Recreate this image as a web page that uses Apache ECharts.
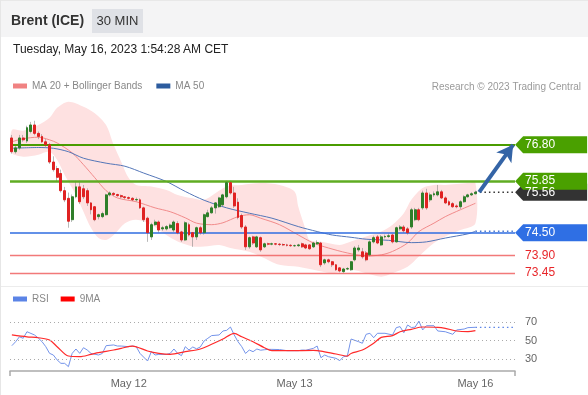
<!DOCTYPE html>
<html><head><meta charset="utf-8">
<script src="https://cdn.jsdelivr.net/npm/echarts@6/dist/echarts.min.js"></script>
<style>
html,body{margin:0;padding:0;background:#fff;}
#wrap{position:relative;width:588px;height:395px;overflow:hidden;background:#fff;font-family:'Liberation Sans',Arial,sans-serif;}
#chart{position:absolute;left:0;top:0;width:588px;height:395px;}
#hdr{position:absolute;left:0;top:0;width:588px;height:37px;background:#f4f4f5;border-top:1px solid #e8e8e8;box-sizing:border-box;}
#ttl{position:absolute;left:11px;top:11px;line-height:16px;font-weight:bold;font-size:14px;color:#333;}
#tf{position:absolute;left:92px;top:8px;width:51px;height:24px;background:#dfe1e6;font-size:13px;color:#333;line-height:24px;text-align:center;}
#dt{position:absolute;left:13px;top:41px;line-height:16px;font-size:12px;color:#222;}
#sep{position:absolute;left:0;top:286px;width:588px;height:1px;background:#ececec;}
#lb{position:absolute;left:0;top:0;width:1px;height:395px;background:#e6e6e6;}
</style></head>
<body><div id="wrap">
<div id="chart"></div>
<div id="hdr"><div id="ttl">Brent (ICE)</div><div id="tf">30 MIN</div></div>
<div id="dt">Tuesday, May 16, 2023 1:54:28 AM CET</div>
<div id="sep"></div><div id="lb"></div>
</div>
<script>
// ---- data ----
const slotCount = 134;               // candle slots incl. empty future slots
const tickIdx = [31, 75, 123];
const tickText = ['May 12', 'May 13', 'May 16'];
// [open, close, low, high]
const candles = [
[76.98,76.62,76.57,77.06],[76.62,76.72,76.57,76.80],[76.72,76.98,76.67,77.06],[76.98,76.93,76.88,77.06],
[76.90,77.25,76.85,77.30],[77.15,77.32,77.10,77.40],[77.32,77.10,77.05,77.43],[77.10,77.02,76.95,77.15],
[77.02,76.88,76.85,77.08],[76.88,76.80,76.75,76.95],[76.80,76.35,76.30,76.85],[76.35,76.15,76.10,76.50],
[76.18,75.95,75.85,76.25],[76.05,75.60,75.55,76.15],[75.60,75.36,75.30,75.70],[75.40,74.80,74.63,75.55],
[74.84,75.44,74.78,75.50],[75.44,75.70,75.40,75.86],[75.70,75.31,75.25,75.86],[75.65,75.44,75.38,75.75],
[75.60,75.28,75.20,75.66],[75.28,75.10,74.98,75.30],[75.18,74.84,74.80,75.20],[74.92,74.97,74.85,75.00],
[74.92,75.00,74.88,75.05],[74.97,75.49,74.95,75.52],[75.49,75.54,75.45,75.58],[75.53,75.50,75.46,75.56],
[75.50,75.47,75.44,75.52],[75.47,75.44,75.40,75.50],[75.44,75.42,75.38,75.46],[75.42,75.40,75.37,75.45],
[75.40,75.36,75.33,75.43],[75.36,75.37,75.32,75.42],[75.36,75.15,75.12,75.40],[75.15,74.84,74.78,75.18],
[74.88,74.50,74.26,74.92],[74.39,74.71,74.31,74.76],[74.71,74.78,74.68,74.84],[74.78,74.57,74.50,74.82],
[74.60,74.63,74.55,74.68],[74.60,74.66,74.56,74.70],[74.63,74.70,74.60,74.74],[74.57,74.78,74.52,74.82],
[74.74,74.50,74.46,74.80],[74.52,74.31,74.26,74.55],[74.31,74.76,74.28,74.80],[74.71,74.44,74.40,74.76],
[74.50,74.39,74.13,74.52],[74.39,74.63,74.31,74.66],[74.63,74.50,74.45,74.68],[74.50,74.97,74.45,75.00],
[74.92,75.02,74.90,75.10],[75.02,75.15,75.00,75.20],[75.15,75.28,75.00,75.30],[75.18,75.41,75.15,75.44],
[75.23,75.49,75.20,75.52],[75.44,75.81,75.40,75.86],[75.81,75.54,75.50,75.86],[75.54,75.20,75.15,75.70],
[75.30,74.90,74.85,75.40],[74.95,74.65,74.60,75.00],[74.65,74.13,74.05,74.70],[74.13,74.37,74.08,74.40],
[74.39,74.23,74.18,74.42],[74.13,74.39,74.10,74.42],[74.37,74.05,74.00,74.40],[74.13,74.21,74.10,74.24],
[74.21,74.20,74.17,74.24],[74.20,74.21,74.17,74.24],[74.21,74.20,74.17,74.23],[74.20,74.19,74.15,74.23],
[74.19,74.18,74.15,74.22],[74.18,74.17,74.14,74.21],[74.17,74.16,74.13,74.20],[74.16,74.16,74.13,74.19],
[74.16,74.18,74.13,74.21],[74.21,74.13,74.10,74.24],[74.18,74.10,74.07,74.21],[74.18,74.08,74.05,74.20],
[74.13,74.23,74.10,74.26],[74.21,74.24,74.18,74.30],[74.23,73.66,73.60,74.26],[73.71,73.79,73.66,73.82],
[73.79,73.74,73.70,73.82],[73.74,73.66,73.60,73.76],[73.66,73.53,73.50,73.68],[73.58,73.50,73.46,73.60],
[73.48,73.55,73.45,73.58],[73.55,73.56,73.52,73.60],[73.53,73.74,73.50,73.76],[73.79,74.10,73.75,74.15],
[74.05,74.10,74.00,74.18],[74.00,73.87,73.82,74.10],[73.97,73.79,73.75,74.02],[73.92,74.26,73.88,74.30],
[74.26,74.37,74.22,74.42],[74.39,74.23,74.20,74.44],[74.18,74.39,74.15,74.44],[74.39,74.40,74.35,74.45],
[74.40,74.42,74.36,74.48],[74.44,74.26,74.22,74.47],[74.26,74.63,74.24,74.66],[74.60,74.65,74.55,74.70],
[74.65,74.55,74.50,74.70],[74.60,74.50,74.45,74.65],[74.65,75.10,74.60,75.15],[74.84,75.10,74.80,75.15],
[75.10,74.84,74.80,75.15],[75.15,75.54,75.10,75.60],[75.54,75.15,75.10,75.65],[75.36,75.49,75.30,75.55],
[75.49,75.52,75.44,75.58],[75.49,75.57,75.45,75.75],[75.57,75.41,75.38,75.62],[75.41,75.28,75.25,75.45],
[75.31,75.23,75.20,75.35],[75.26,75.18,75.15,75.30],[75.20,75.18,75.14,75.24],[75.18,75.31,75.12,75.35],
[75.31,75.44,75.28,75.48],[75.44,75.49,75.42,75.52],[75.49,75.52,75.46,75.56],[75.52,75.56,75.50,75.60]
];
// [slot, value]
const ma20 = [[0,76.88],[3,76.96],[7,77.00],[10,76.93],[12,76.85],[16,76.59],[19,76.28],[22,75.94],[25,75.60],
[28,75.41],[33,75.31],[38,75.15],[42,75.05],[46,74.89],[49,74.75],[53,74.71],[56,74.76],[60,74.92],[63,74.97],
[66,74.88],[71,74.71],[76,74.44],[80,74.23],[84,74.10],[89,73.97],[94,73.89],[98,73.92],[101,74.01],[105,74.23],
[108,74.53],[112,74.75],[115,74.92],[119,75.10],[123,75.27]];
const ma50 = [[0,76.71],[7,76.73],[11,76.71],[15,76.62],[19,76.45],[25,76.32],[30,76.24],[35,76.06],[41,75.84],
[46,75.58],[51,75.35],[57,75.15],[63,75.01],[69,74.88],[76,74.66],[81,74.53],[85,74.44],[90,74.38],[94,74.33],
[100,74.30],[106,74.24],[110,74.26],[115,74.36],[121,74.47],[123,74.54]];
const bbUpper = [[0,77.19],[3,77.17],[7,77.32],[10,77.51],[12,77.77],[15,77.93],[19,77.80],[22,77.63],[25,77.32],
[27,76.80],[29,76.36],[31,75.93],[33,75.75],[37,75.71],[41,75.62],[44,75.49],[48,75.40],[51,75.36],[57,75.71],
[61,75.75],[66,75.80],[71,75.75],[75,75.58],[76,75.18],[78,74.57],[79,74.31],[82,74.26],[87,74.18],[90,74.27],
[94,74.40],[98,74.53],[101,74.71],[104,75.01],[106,75.36],[109,75.67],[112,75.75],[115,75.75],[121,75.80],[123,75.80]];
const bbLower = [[0,76.59],[3,76.49],[7,76.54],[10,76.62],[12,76.41],[14,76.01],[17,75.49],[19,75.05],[21,74.62],
[23,74.36],[25,74.31],[27,74.44],[30,74.75],[33,74.84],[37,74.71],[41,74.44],[44,74.27],[48,74.14],[51,74.14],
[55,74.18],[58,74.10],[63,74.00],[66,73.88],[71,73.66],[76,73.61],[80,73.53],[85,73.44],[90,73.53],[94,73.44],
[98,73.35],[101,73.44],[105,73.61],[108,73.88],[112,74.23],[115,74.40],[119,74.57],[123,74.75]];
const rsi = [[0,44.4],[1,48.7],[2,54],[3,52.4],[4,59.5],[6,56],[7,52.7],[8,48.7],[9,43.3],[10,36.1],[11,34.3],
[12,29],[13,25.3],[14,25.3],[15,21.7],[16,36.1],[17,40.8],[18,36.1],[19,42.2],[20,39.7],[21,36],[23,34.3],[24,36],
[25,44.4],[27,45.2],[28,44],[29,44],[31,43.3],[32,44],[33,43.3],[34,36],[36,27.8],[37,37.9],[38,34.3],[39,35],
[41,35],[42,36],[43,40.8],[44,36],[45,33.6],[46,43.3],[47,39.7],[48,43],[49,41],[50,43],[51,49.5],[52,52.4],
[53,55.3],[55,56],[56,60.3],[57,61],[58,64.6],[59,56],[60,48.7],[61,43.3],[62,36],[63,39.7],[64,37.9],[65,40.8],
[66,39.5],[67,40],[68,40.4],[69,40.4],[71,40.2],[73,39],[75,39],[76,39],[77,39.7],[78,39.5],[80,41.5],[81,44],
[82,31.4],[83,34.3],[84,32.5],[86,30.7],[87,28.2],[88,32.5],[89,33],[90,51.6],[92,48.7],[93,47],[94,56.7],
[95,57.8],[96,53],[97,57.8],[99,57.8],[101,56],[102,63.9],[103,65],[104,58.4],[105,66.8],[106,64],[107,64.5],
[108,71],[109,61.4],[110,66],[112,66],[113,60.3],[115,59.5],[117,56.7],[118,61.4],[120,62.4],[121,63.9],[123,64.3]];
const rsiMA = [[0,56],[4,54],[7,53],[10,50.5],[12,43.3],[15,33.2],[18,32.5],[21,35],[23,36.8],[27,39.7],[29,41.5],
[32,44],[36,38.6],[39,36],[42,35],[46,37.9],[50,40.8],[53,45.9],[56,51.6],[59,57.8],[61,54],[64,48.7],[67,42.2],
[69,39],[74,39],[80,39.3],[82,38.6],[86,35.4],[89,33.2],[90,36],[93,39.7],[96,47],[98,53.4],[101,55.3],[103,59.5],
[106,62.1],[109,64.6],[113,64.3],[115,63.2],[118,60.3],[121,59.5],[123,60.6]];
const levelValues = [76.80, 75.85, 74.50];     // resistance / pivot
const supportValues = [73.90, 73.45];          // supports
const rsiLevels = [70, 50, 30];

// ---- styles ----
const levelLine = [
  {color:'#4a9c00', width:2}, {color:'#5fac22', width:2.6}, {color:'#2f6ce0', width:1.5}
];
const levelTag = ['#4aa000', '#4aa000', '#2f6fe4'];
const FONT = "'Liberation Sans', Arial, sans-serif";

const lastSlot = candles.length - 1;
const endSlot = slotCount - 1;
const lastClose = candles[lastSlot][1];
const categories = Array.from({length: slotCount}, (_, i) => {
  const k = tickIdx.indexOf(i); return k >= 0 ? tickText[k] : '';
});
const tagPath = 'path://M0,8.5L8,0L72,0L72,17L8,17Z';

function tag(value, color) {
  return {
    coord: [endSlot, value], value: value,
    symbol: color ? tagPath : 'rect', symbolSize: [72, 17], symbolOffset: [38, 0],
    itemStyle: {color: color || 'rgba(0,0,0,0)'},
    label: {show: true, position: 'inside', align: 'left', offset: [-26, 0],
      color: color ? '#fff' : '#e8262a', fontSize: 12, fontFamily: FONT,
      formatter: () => value.toFixed(2)}
  };
}

const chart = echarts.init(document.getElementById('chart'), null, {renderer: 'canvas'});
const option = {
  animation: false,
  textStyle: {fontFamily: FONT},
  legend: [
    {top: 81, left: 13, padding: 0, itemWidth: 14, itemHeight: 5, itemGap: 14, icon: 'rect', selectedMode: false,
     textStyle: {fontSize: 10, color: '#888'},
     data: [{name: 'MA 20 + Bollinger Bands', itemStyle: {color: '#f08282'}}, {name: 'MA 50', itemStyle: {color: '#2d5c9e'}}]},
    {top: 294, left: 13, padding: 0, itemWidth: 14, itemHeight: 5, itemGap: 12, icon: 'rect', selectedMode: false,
     textStyle: {fontSize: 10, color: '#888'},
     data: [{name: 'RSI', itemStyle: {color: '#5b84e6'}}, {name: '9MA', itemStyle: {color: '#ff0000'}}]}
  ],
  graphic: [{type: 'text', right: 7, top: 82, style: {text: 'Research \u00a9 2023 Trading Central', fill: '#9a9a9a', font: '10px ' + FONT}}],
  grid: [{left: 10, right: 73, top: 99, height: 191}, {left: 10, right: 73, top: 310, height: 61}],
  xAxis: [
    {type: 'category', gridIndex: 0, data: categories, show: false},
    {type: 'category', gridIndex: 1, data: categories,
     axisLine: {lineStyle: {color: '#aaa', width: 1.5}},
     axisTick: {show: true, interval: (i) => i === 0, length: 5, lineStyle: {color: '#aaa', width: 1.5}},
     axisLabel: {interval: (i) => tickIdx.includes(i), color: '#666', fontSize: 11, margin: 7}}
  ],
  yAxis: [
    {type: 'value', gridIndex: 0, min: 73, max: 78, show: false},
    {type: 'value', gridIndex: 1, min: 17, max: 83, show: false}
  ],
  series: [
    {name: 'BB', type: 'custom', xAxisIndex: 0, yAxisIndex: 0, z: 1, silent: true,
     data: [bbUpper[0]],
     renderItem: (params, api) => {
       const pts = bbUpper.map(p => api.coord(p)).concat(bbLower.slice().reverse().map(p => api.coord(p)));
       return {type: 'polygon', shape: {points: pts, smooth: 0.3}, style: {fill: '#fee1e1'}};
     }},
    {name: 'levels', type: 'line', xAxisIndex: 0, yAxisIndex: 0, z: 2, symbol: 'none',
     data: [[lastSlot, lastClose], [endSlot, lastClose]],
     lineStyle: {color: '#333', width: 1.5, type: [1.5, 3]},
     markLine: {silent: true, symbol: 'none', label: {show: false},
       data: levelValues.map((v, k) => ({yAxis: v, lineStyle: {type: 'solid', color: levelLine[k].color, width: levelLine[k].width}}))}},
    {name: 'supports', type: 'line', xAxisIndex: 0, yAxisIndex: 0, z: 2, symbol: 'none',
     color: '#f06262', data: [[0, supportValues[0]]],
     markLine: {silent: true, symbol: 'none', label: {show: false},
       lineStyle: {type: 'solid', color: '#f06262', width: 1.4, opacity: 0.85},
       data: supportValues.map(v => ({yAxis: v}))}},
    {name: 'MA 20 + Bollinger Bands', type: 'line', xAxisIndex: 0, yAxisIndex: 0, z: 3, symbol: 'none', smooth: 0.3,
     data: ma20, lineStyle: {color: '#f28b8b', width: 1}, itemStyle: {color: '#f08282'}},
    {name: 'MA 50', type: 'line', xAxisIndex: 0, yAxisIndex: 0, z: 3, symbol: 'none', smooth: 0.3,
     data: ma50, lineStyle: {color: '#5476b8', width: 1}, itemStyle: {color: '#2d5c9e'}},
    {name: 'ma50ext', type: 'line', xAxisIndex: 0, yAxisIndex: 0, z: 3, symbol: 'none',
     data: [ma50[ma50.length - 1], [endSlot, ma50[ma50.length - 1][1]]],
     lineStyle: {color: '#4a78d0', width: 1.5, type: [1.5, 3]}},
    {name: 'wick', type: 'candlestick', xAxisIndex: 0, yAxisIndex: 0, z: 4, barWidth: 1,
     data: candles,
     itemStyle: {color: '#8a8a8a', color0: '#8a8a8a', borderColor: '#8a8a8a', borderColor0: '#8a8a8a', borderWidth: 0.6}},
    {name: 'body', type: 'candlestick', xAxisIndex: 0, yAxisIndex: 0, z: 5, barWidth: 2.4,
     data: candles.map(c => [c[0], c[1], Math.min(c[0], c[1]), Math.max(c[0], c[1])]),
     itemStyle: {color: '#2f7f2a', color0: '#e02222', borderColor: '#2f7f2a', borderColor0: '#e02222', borderWidth: 1}},
    {name: 'callout', type: 'line', xAxisIndex: 0, yAxisIndex: 0, z: 6, symbol: 'none',
     data: [[endSlot, levelValues[0]]],
     markLine: {silent: true, label: {show: false},
       data: [[{coord: [lastSlot + 1, lastClose], symbol: 'none'},
               {coord: [endSlot, levelValues[0]], symbol: 'arrow', symbolSize: [14, 16]}]],
       lineStyle: {color: '#3464a6', width: 4, type: 'solid'}},
     markPoint: {silent: true,
       data: [tag(lastClose, '#333333'), tag(levelValues[2], levelTag[2]), tag(supportValues[0], null),
              tag(supportValues[1], null), tag(levelValues[0], levelTag[0]), tag(levelValues[1], levelTag[1])]}},
    {name: 'RSI', type: 'line', xAxisIndex: 1, yAxisIndex: 1, z: 3, symbol: 'none',
     data: rsi, lineStyle: {color: '#7393ea', width: 1}, itemStyle: {color: '#5b84e6'},
     markLine: {silent: true, symbol: 'none',
       lineStyle: {color: '#aaa', width: 1, type: [1, 3]},
       label: {position: 'end', distance: 10, color: '#666', fontSize: 11, formatter: '{c}'},
       data: rsiLevels.map(v => ({yAxis: v}))}},
    {name: 'rsiext', type: 'line', xAxisIndex: 1, yAxisIndex: 1, z: 3, symbol: 'none',
     data: [rsi[rsi.length - 1], [endSlot, rsi[rsi.length - 1][1]]],
     lineStyle: {color: '#5b84e6', width: 1.2, type: [1.5, 3]}},
    {name: '9MA', type: 'line', xAxisIndex: 1, yAxisIndex: 1, z: 4, symbol: 'none', smooth: 0.3,
     data: rsiMA, lineStyle: {color: '#ff2a2a', width: 1.2}, itemStyle: {color: '#ff0000'}}
  ]
};
chart.setOption(option);
</script>
</body></html>
